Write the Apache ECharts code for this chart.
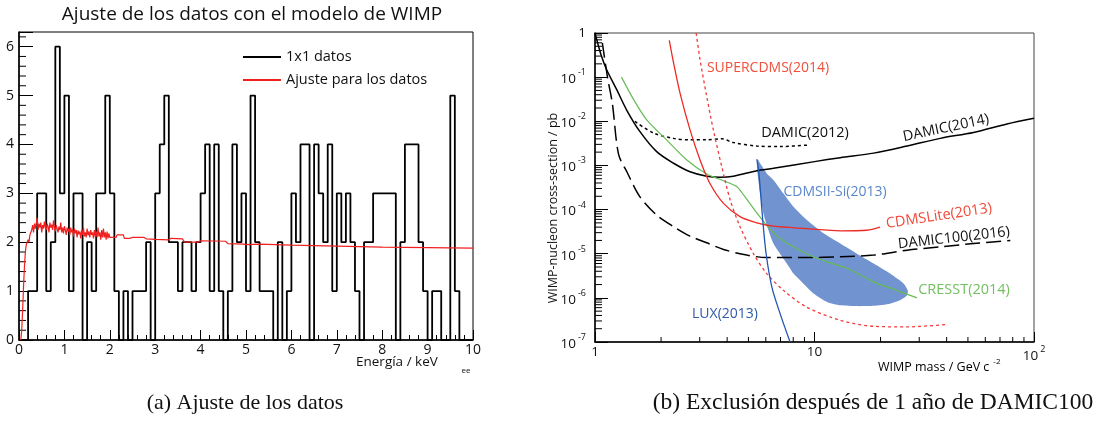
<!DOCTYPE html>
<html>
<head>
<meta charset="utf-8">
<script src="https://cdn.jsdelivr.net/npm/echarts@6/dist/echarts.min.js"></script>
<style>
  html, body { margin: 0; padding: 0; background: #fff; }
  #chart { width: 1105px; height: 423px; }
</style>
</head>
<body>
<div id="chart"></div>
<script>
// ---- (a) histogram: counts per 0.1 keV bin, 0 - 10 keV
const binWidth = 0.1;
const counts = [
  0, 0, 1, 1, 3, 3, 1, 2, 6, 3,
  5, 1, 3, 3, 0, 2, 1, 3, 3, 5,
  3, 1, 0, 1, 0, 1, 1, 1, 2, 0,
  3, 4, 5, 2, 2, 1, 2, 2, 1, 2,
  3, 4, 1, 4, 1, 0, 1, 4, 2, 3,
  1, 5, 2, 1, 1, 1, 0, 2, 0, 1,
  3, 2, 4, 4, 0, 4, 3, 2, 4, 1,
  3, 2, 3, 2, 1, 0, 2, 2, 3, 3,
  3, 3, 3, 0, 2, 4, 4, 4, 2, 1,
  0, 1, 1, 0, 0, 5, 1, 0, 0, 0
];

// fit curve (keV, counts)
const fitEnergy = [
  0.04, 0.06, 0.08, 0.10, 0.12, 0.14, 0.16, 0.18, 0.20, 0.22, 0.24, 0.26, 0.28, 0.30,
  0.32, 0.34, 0.36, 0.38, 0.40, 0.42, 0.44, 0.46, 0.48, 0.50, 0.52, 0.54, 0.56, 0.58,
  0.60, 0.62, 0.64, 0.66, 0.68, 0.70, 0.72, 0.74, 0.76, 0.78, 0.80, 0.82, 0.84, 0.86,
  0.88, 0.90, 0.92, 0.94, 0.96, 0.98, 1.00, 1.02, 1.04, 1.06, 1.08, 1.10, 1.12, 1.14,
  1.16, 1.18, 1.20, 1.22, 1.24, 1.26, 1.28, 1.30, 1.32, 1.34, 1.36, 1.38, 1.40, 1.42,
  1.44, 1.46, 1.48, 1.50, 1.52, 1.54, 1.56, 1.58, 1.60, 1.62, 1.64, 1.66, 1.68, 1.70,
  1.72, 1.74, 1.76, 1.78, 1.80, 1.82, 1.84, 1.86, 1.88, 1.90, 1.92, 1.94, 1.96, 1.98,
  2.00, 2.14, 2.16, 2.30, 2.32, 2.45, 2.50, 2.75, 2.80, 3.00, 3.30, 3.35, 3.60, 3.65,
  3.95, 4.00, 4.55, 4.60, 4.95, 5.00, 5.30, 6.00, 7.00, 8.00, 9.00, 10.00
];
const fitValue = [
  0.00, 0.20, 0.60, 1.10, 1.50, 1.80, 1.95, 2.00, 2.05, 2.00, 2.15, 2.20, 2.25, 2.35,
  2.20, 2.38, 2.28, 2.32, 2.50, 2.25, 2.38, 2.30, 2.40, 2.20, 2.35, 2.28, 2.42, 2.30,
  2.25, 2.38, 2.32, 2.20, 2.40, 2.30, 2.36, 2.25, 2.45, 2.30, 2.22, 2.35, 2.28, 2.20,
  2.32, 2.25, 2.40, 2.20, 2.30, 2.18, 2.33, 2.25, 2.15, 2.30, 2.22, 2.28, 2.15, 2.30,
  2.20, 2.26, 2.12, 2.28, 2.18, 2.25, 2.10, 2.24, 2.16, 2.22, 2.08, 2.25, 2.15, 2.30,
  2.12, 2.20, 2.10, 2.28, 2.14, 2.22, 2.10, 2.25, 2.15, 2.20, 2.08, 2.25, 2.12, 2.22,
  2.10, 2.30, 2.12, 2.20, 2.05, 2.25, 2.10, 2.28, 2.10, 2.20, 2.05, 2.22, 2.08, 2.18,
  2.10, 2.10, 2.15, 2.15, 2.08, 2.08, 2.10, 2.10, 2.07, 2.06, 2.05, 2.08, 2.07, 2.00,
  2.00, 2.03, 2.02, 1.97, 1.96, 1.95, 1.96, 1.94, 1.92, 1.90, 1.89, 1.88
];

// ---- (b) exclusion limits: WIMP mass (GeV/c^2) vs cross-section (pb)
const damic2014Mass = [1.0, 1.018, 1.07, 1.13, 1.256, 1.394, 1.6, 1.91, 2.28, 2.71, 3.23, 3.71, 4.27, 5.46, 6.5, 10, 13.1, 18.6, 26.4, 37.4, 53, 75.3, 100];
const damic2014Sigma = [1.0, 0.71, 0.30, 0.147, 0.052, 0.018, 5.9e-3, 2.05e-3, 1.12e-3, 7.2e-4, 5.7e-4, 5.4e-4, 5.7e-4, 7.6e-4, 8.6e-4, 1.22e-3, 1.5e-3, 1.9e-3, 2.75e-3, 4.1e-3, 5.6e-3, 8.7e-3, 1.17e-2];

const damic2012Mass = [1.52, 1.85, 2.28, 2.71, 3.23, 3.78, 4.27, 5.46, 6.97, 9.4];
const damic2012Sigma = [9.9e-3, 5.4e-3, 4.1e-3, 3.8e-3, 3.8e-3, 4.0e-3, 3.3e-3, 2.75e-3, 2.67e-3, 2.9e-3];

const damic100Mass = [1.08, 1.14, 1.2, 1.28, 1.4, 1.6, 1.91, 2.28, 2.71, 3.23, 3.85, 4.91, 6.06, 9.2, 13.1, 18.6, 26.4, 37.4, 53, 78];
const damic100Sigma = [0.6, 0.1, 0.025, 1.8e-3, 7.0e-4, 1.96e-4, 7.5e-5, 4.1e-5, 2.5e-5, 1.77e-5, 1.25e-5, 9.3e-6, 8.2e-6, 8.2e-6, 8.5e-6, 9.3e-6, 1.2e-5, 1.43e-5, 1.7e-5, 2.0e-5];

const cresstMass = [1.32, 1.5, 1.72, 2.12, 2.62, 3.23, 3.85, 4.43, 4.75, 5.27, 6.06, 6.97, 9.2, 11.8, 14.5, 18.6, 23.7, 29.3];
const cresstSigma = [0.1, 0.031, 0.0108, 3.8e-3, 1.33e-3, 6.4e-4, 4.5e-4, 3.3e-4, 2.14e-4, 1.07e-4, 4.4e-5, 2.2e-5, 1.0e-5, 6.2e-6, 4.4e-6, 2.3e-6, 1.48e-6, 1.0e-6];

const cdmsliteMass = [2.18, 2.28, 2.44, 2.71, 3.01, 3.34, 3.85, 4.58, 5.46, 6.5, 9.2, 13.1, 17.3, 19.9];
const cdmsliteSigma = [0.68, 0.21, 0.0435, 6.4e-3, 1.33e-3, 3.9e-4, 1.38e-4, 6.9e-5, 5.0e-5, 4.2e-5, 3.7e-5, 3.3e-5, 3.4e-5, 4.0e-5];

const supercdmsMass = [2.89, 3.01, 3.23, 3.46, 3.78, 4.13, 4.58, 5.27, 6.06, 7.22, 9.2, 13.1, 18.6, 26.4, 40.1];
const supercdmsSigma = [1, 0.25, 0.036, 6.4e-3, 9.4e-4, 1.65e-4, 4.1e-5, 1.0e-5, 3.55e-6, 1.48e-6, 6.2e-7, 3.1e-7, 2.27e-7, 2.2e-7, 2.5e-7];

const luxMass = [5.46, 5.56, 5.65, 5.81, 6.02, 6.39, 6.97, 7.74];
const luxSigma = [1.38e-3, 7.9e-4, 3.3e-4, 5.8e-5, 1.0e-5, 1.78e-6, 4.4e-7, 1e-7];

// CDMSII-Si(2013) signal region outline
const cdmsiiMass = [5.50, 5.65, 6.06, 6.50, 7.22, 8.02, 9.23, 11.0, 13.1, 15.6, 18.6, 22.1, 25.5, 26.6, 26.4, 24.6, 22.1, 18.6, 15.6, 13.1, 11.4, 9.9, 8.91, 8.02, 7.48, 6.97, 6.50, 6.17, 5.85, 5.65, 5.50, 5.46];
const cdmsiiSigma = [1.38e-3, 1.12e-3, 6.6e-4, 4.7e-4, 2.3e-4, 1.16e-4, 5.8e-5, 2.9e-5, 1.7e-5, 1.0e-5, 6.0e-6, 3.55e-6, 2.1e-6, 1.48e-6, 1.15e-6, 8.9e-7, 7.4e-7, 6.6e-7, 6.5e-7, 6.8e-7, 8.1e-7, 1.26e-6, 2.1e-6, 3.55e-6, 6.0e-6, 1.0e-5, 1.7e-5, 3.4e-5, 8.2e-5, 2.3e-4, 6.6e-4, 1.12e-3];

const FONT = '"Open Sans", "Noto Sans", sans-serif';
const SERIF = '"Liberation Serif", "DejaVu Serif", serif';

function pairs(xs, ys) {
  return xs.map((x, i) => [x, ys[i]]);
}

const histData = counts.map((c, i) => [Math.round(i * binWidth * 10) / 10, c]);
histData.push([10, counts[counts.length - 1]]);

// minor ticks (ROOT style, inside the frame)
const leftMinorY = [];
for (let k = 1; k <= 31; k++) {
  if (k % 5 !== 0) leftMinorY.push([0, k / 5, 1, 7]);
}
const rightMinor = [];
for (let d = 0; d < 2; d++) {
  for (let k = 2; k <= 9; k++) rightMinor.push([k * Math.pow(10, d), 1e-7, 0, 5]);
}
for (let d = -7; d < 0; d++) {
  for (let k = 2; k <= 9; k++) rightMinor.push([1, k * Math.pow(10, d), 1, 7]);
}

function tickItem(params, api) {
  const p = api.coord([api.value(0), api.value(1)]);
  const len = api.value(3);
  const up = api.value(2) === 0;
  return {
    type: 'line',
    shape: { x1: p[0], y1: p[1], x2: up ? p[0] : p[0] + len, y2: up ? p[1] - len : p[1] },
    style: { stroke: '#000', lineWidth: 1 }
  };
}

function powLabel(v) {
  const e = Math.round(Math.log10(v));
  if (e === 0) return '1';
  if (e === 1) return '10';
  return '{b|10}{s|' + e + '}';
}
const powRich = {
  b: { fontSize: 13.5, lineHeight: 18, verticalAlign: 'bottom', fontFamily: FONT, color: '#111' },
  s: { fontSize: 9, lineHeight: 10, verticalAlign: 'top', fontFamily: FONT, color: '#111', padding: [0, 0, 0, 2] }
};

const chart = echarts.init(document.getElementById('chart'));

const option = {
  backgroundColor: '#fff',
  animation: false,
  grid: [
    { left: 19, top: 32, width: 454, height: 308, show: true, borderColor: '#000', borderWidth: 1 },
    { left: 595, top: 33, width: 439, height: 309, show: true, borderColor: '#444', borderWidth: 1 }
  ],
  legend: {
    data: ['1x1 datos', 'Ajuste para los datos'],
    left: 238, top: 43, orient: 'vertical', icon: 'rect',
    itemWidth: 38, itemHeight: 2, itemGap: 5,
    textStyle: { fontSize: 14.5, lineHeight: 18, color: '#111', fontFamily: FONT }
  },
  xAxis: [
    {
      gridIndex: 0, type: 'value', min: 0, max: 10, interval: 1,
      axisLine: { lineStyle: { color: '#000', width: 1.5 } },
      axisTick: { inside: true, length: 10, lineStyle: { color: '#000' } },
      minorTick: { show: true, splitNumber: 5, length: 5, lineStyle: { color: '#000' } },
      splitLine: { show: false },
      axisLabel: { margin: 3, fontSize: 14, color: '#111', fontFamily: FONT }
    },
    {
      gridIndex: 1, type: 'log', logBase: 10, min: 1, max: 100,
      axisLine: { lineStyle: { color: '#000', width: 1.5 } },
      axisTick: { inside: true, length: 10, lineStyle: { color: '#000' } },
      splitLine: { show: false },
      axisLabel: { margin: 3, fontSize: 13.5, color: '#111', fontFamily: FONT, formatter: powLabel, rich: powRich }
    }
  ],
  yAxis: [
    {
      gridIndex: 0, type: 'value', min: 0, max: 6.3, interval: 1,
      axisLine: { lineStyle: { color: '#000', width: 1.5 } },
      axisTick: { inside: true, length: 14, lineStyle: { color: '#000' } },
      splitLine: { show: false },
      axisLabel: { margin: 5, fontSize: 14, color: '#111', fontFamily: FONT,
        formatter: v => (Number.isInteger(v) ? String(v) : '') }
    },
    {
      gridIndex: 1, type: 'log', logBase: 10, min: 1e-7, max: 1, interval: 1, splitNumber: 7,
      axisLine: { lineStyle: { color: '#000', width: 1.5 } },
      axisTick: { inside: true, length: 13, lineStyle: { color: '#000' } },
      splitLine: { show: false },
      axisLabel: { margin: 9, fontSize: 13.5, color: '#111', fontFamily: FONT, formatter: powLabel, rich: powRich }
    }
  ],
  series: [
    // (a)
    {
      name: '1x1 datos', type: 'line', xAxisIndex: 0, yAxisIndex: 0,
      data: histData, step: 'end', symbol: 'none',
      lineStyle: { color: '#000', width: 1.8 }, itemStyle: { color: '#000' }
    },
    {
      name: 'Ajuste para los datos', type: 'line', xAxisIndex: 0, yAxisIndex: 0,
      data: pairs(fitEnergy, fitValue), symbol: 'none',
      lineStyle: { color: '#f02020', width: 1.2 }, itemStyle: { color: '#f02020' }
    },
    {
      type: 'custom', xAxisIndex: 0, yAxisIndex: 0, silent: true,
      data: leftMinorY, renderItem: tickItem
    },
    // (b)
    {
      name: 'CDMSII-Si(2013)', type: 'custom', xAxisIndex: 1, yAxisIndex: 1, silent: true,
      data: pairs(cdmsiiMass, cdmsiiSigma),
      renderItem: (params, api) => {
        if (params.dataIndex !== 0) return null;
        const points = cdmsiiMass.map((m, i) => api.coord([m, cdmsiiSigma[i]]));
        return { type: 'polygon', shape: { points: points, smooth: 0.2 }, style: { fill: '#7193cf' } };
      }
    },
    {
      name: 'DAMIC(2014)', type: 'line', xAxisIndex: 1, yAxisIndex: 1, symbol: 'none', smooth: 0.3,
      data: pairs(damic2014Mass, damic2014Sigma), lineStyle: { color: '#000', width: 1.5 }
    },
    {
      name: 'DAMIC(2012)', type: 'line', xAxisIndex: 1, yAxisIndex: 1, symbol: 'none', smooth: 0.3,
      data: pairs(damic2012Mass, damic2012Sigma), lineStyle: { color: '#000', width: 1.5, type: [3, 3] }
    },
    {
      name: 'DAMIC100(2016)', type: 'line', xAxisIndex: 1, yAxisIndex: 1, symbol: 'none', smooth: 0.3,
      data: pairs(damic100Mass, damic100Sigma), lineStyle: { color: '#000', width: 1.5, type: [15, 6] }
    },
    {
      name: 'CRESST(2014)', type: 'line', xAxisIndex: 1, yAxisIndex: 1, symbol: 'none', smooth: 0.3,
      data: pairs(cresstMass, cresstSigma), lineStyle: { color: '#66bb55', width: 1.2 }
    },
    {
      name: 'CDMSLite(2013)', type: 'line', xAxisIndex: 1, yAxisIndex: 1, symbol: 'none', smooth: 0.3,
      data: pairs(cdmsliteMass, cdmsliteSigma), lineStyle: { color: '#ee2a24', width: 1.3 }
    },
    {
      name: 'SUPERCDMS(2014)', type: 'line', xAxisIndex: 1, yAxisIndex: 1, symbol: 'none', smooth: 0.3,
      data: pairs(supercdmsMass, supercdmsSigma), lineStyle: { color: '#f23a3a', width: 1.3, type: [3, 3] }
    },
    {
      name: 'LUX(2013)', type: 'line', xAxisIndex: 1, yAxisIndex: 1, symbol: 'none', smooth: 0.3,
      data: pairs(luxMass, luxSigma), lineStyle: { color: '#2156b4', width: 1.3 }
    },
    {
      type: 'custom', xAxisIndex: 1, yAxisIndex: 1, silent: true,
      data: rightMinor, renderItem: tickItem
    }
  ],
  graphic: [
    { type: 'text', x: 252, y: 15, style: { text: 'Ajuste de los datos con el modelo de WIMP', font: '19px ' + FONT, fill: '#111', textAlign: 'center', textVerticalAlign: 'middle' } },
    { type: 'text', x: 356, y: 362, style: { text: 'Energía / keV', font: '13.5px ' + FONT, fill: '#111', textAlign: 'left', textVerticalAlign: 'middle' } },
    { type: 'text', x: 466, y: 371, style: { text: 'ee', font: '8px ' + FONT, fill: '#111', textAlign: 'center', textVerticalAlign: 'middle' } },

    { type: 'text', x: 553, y: 208, rotation: Math.PI / 2, style: { text: 'WIMP-nucleon cross-section / pb', font: '12.5px ' + FONT, fill: '#111', textAlign: 'center', textVerticalAlign: 'middle' } },
    { type: 'text', x: 878, y: 366, style: { text: '{a|WIMP mass / GeV c}{s|-2}', textAlign: 'left', textVerticalAlign: 'middle',
      rich: { a: { fontSize: 12.5, fontFamily: FONT, color: '#111', lineHeight: 16, verticalAlign: 'bottom' },
              s: { fontSize: 8, fontFamily: FONT, color: '#111', lineHeight: 9, verticalAlign: 'top', padding: [0, 0, 0, 4] } } } },

    { type: 'text', x: 768, y: 68, style: { text: 'SUPERCDMS(2014)', font: '14px ' + FONT, fill: '#f0503c', textAlign: 'center', textVerticalAlign: 'middle' } },
    { type: 'text', x: 805, y: 133, style: { text: 'DAMIC(2012)', font: '14.5px ' + FONT, fill: '#111', textAlign: 'center', textVerticalAlign: 'middle' } },
    { type: 'text', x: 946, y: 128, rotation: 12 * Math.PI / 180, style: { text: 'DAMIC(2014)', font: '14.5px ' + FONT, fill: '#111', textAlign: 'center', textVerticalAlign: 'middle' } },
    { type: 'text', x: 835, y: 192, style: { text: 'CDMSII-Si(2013)', font: '14px ' + FONT, fill: '#5b87c8', textAlign: 'center', textVerticalAlign: 'middle' } },
    { type: 'text', x: 939, y: 216, rotation: 8.5 * Math.PI / 180, style: { text: 'CDMSLite(2013)', font: '14.5px ' + FONT, fill: '#f04a3a', textAlign: 'center', textVerticalAlign: 'middle' } },
    { type: 'text', x: 954, y: 238, rotation: 6.5 * Math.PI / 180, style: { text: 'DAMIC100(2016)', font: '14.5px ' + FONT, fill: '#111', textAlign: 'center', textVerticalAlign: 'middle' } },
    { type: 'text', x: 964, y: 290, style: { text: 'CRESST(2014)', font: '14.5px ' + FONT, fill: '#72c060', textAlign: 'center', textVerticalAlign: 'middle' } },
    { type: 'text', x: 725, y: 314, style: { text: 'LUX(2013)', font: '14px ' + FONT, fill: '#2f5aa8', textAlign: 'center', textVerticalAlign: 'middle' } },

    { type: 'text', x: 245, y: 403, style: { text: '(a) Ajuste de los datos', font: '22px ' + SERIF, fill: '#111', textAlign: 'center', textVerticalAlign: 'middle' } },
    { type: 'text', x: 873, y: 403, style: { text: '(b) Exclusión después de 1 año de DAMIC100', font: '23.5px ' + SERIF, fill: '#111', textAlign: 'center', textVerticalAlign: 'middle' } }
  ]
};

chart.setOption(option);
</script>
</body>
</html>
